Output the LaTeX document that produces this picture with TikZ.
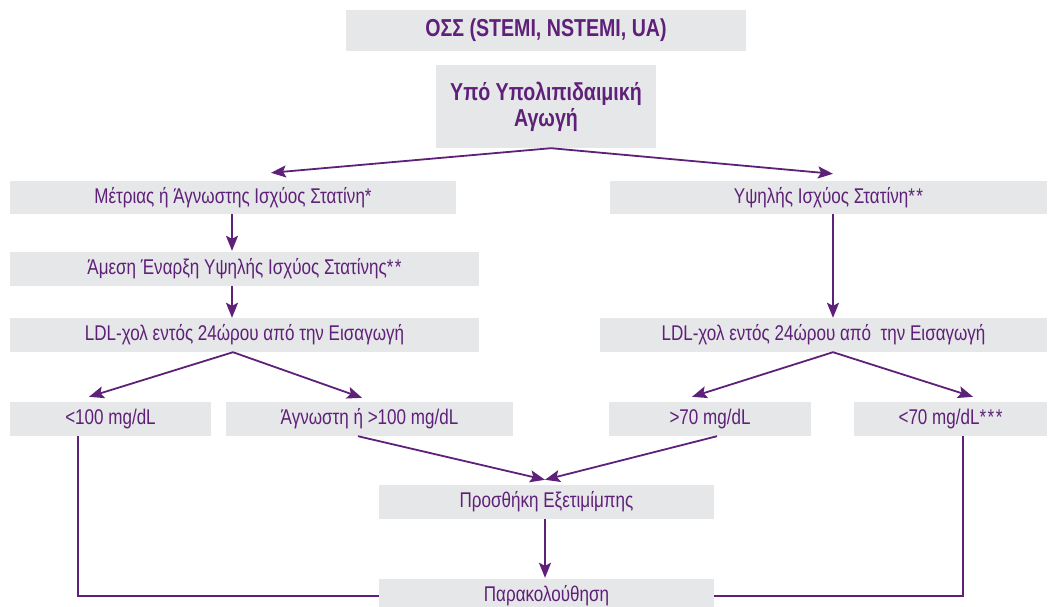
\documentclass[tikz,border=0pt]{standalone}
\usepackage{fontspec}
\setmainfont{Liberation Sans}[FakeStretch=0.8]
\usetikzlibrary{arrows.meta,calc}
\definecolor{pur}{RGB}{94,32,120}
\definecolor{boxgray}{RGB}{230,231,232}
\newcommand{\myast}{*\kern1.5pt}
\begin{document}
\begin{tikzpicture}[x=1pt,y=-1pt,
  bx/.style={fill=boxgray,draw=none,inner sep=0pt,text=pur,align=center,
    font=\fontsize{21.3}{24}\selectfont},
  bxb/.style={bx,font=\fontsize{24.5}{26}\selectfont\bfseries},
  arr/.style={draw=pur,line width=1.8pt,-{Stealth[length=15pt,width=12pt,inset=3pt]}},
  ln/.style={draw=pur,line width=1.8pt}]
\useasboundingbox (0,0) rectangle (1049,607);
\node[bxb,minimum width=400pt,minimum height=41pt] (oss) at (546,30.5) {ΟΣΣ (STEMI, NSTEMI, UA)};
\node[bxb,minimum width=220pt,minimum height=83pt] (ypo) at (546,106.5) {Υπό Υπολιπιδαιμική\\Αγωγή};
\node[bx,minimum width=446pt,minimum height=33pt] (metr) at (233,197.5) {Μέτριας ή Άγνωστης Ισχύος Στατίνη*};
\node[bx,minimum width=437pt,minimum height=33pt] (ypsil) at (828.5,197.5) {Υψηλής Ισχύος Στατίνη\myast*};
\node[bx,minimum width=469pt,minimum height=34pt] (amesi) at (244.5,269) {Άμεση Έναρξη Υψηλής Ισχύος Στατίνης\myast*};
\node[bx,minimum width=469pt,minimum height=34pt] (ldlL) at (244.5,335) {LDL-χολ εντός 24ώρου από την Εισαγωγή};
\node[bx,minimum width=447pt,minimum height=34pt] (ldlR) at (823.5,335) {LDL-χολ εντός 24ώρου από\ \ την Εισαγωγή};
\node[bx,minimum width=201pt,minimum height=34pt] (lt100) at (110.5,419) {<100 mg/dL};
\node[bx,minimum width=287pt,minimum height=34pt] (gt100) at (369.5,419) {Άγνωστη ή >100 mg/dL};
\node[bx,minimum width=202pt,minimum height=34pt] (gt70) at (710,419) {>70 mg/dL};
\node[bx,minimum width=193pt,minimum height=34pt] (lt70) at (950.5,419) {<70 mg/dL\myast\myast*};
\node[bx,minimum width=335pt,minimum height=34pt] (add) at (546.5,502) {Προσθήκη Εξετιμίμπης};
\node[bx,minimum width=335pt,minimum height=34pt] (para) at (546.5,596) {Παρακολούθηση};
% arrows
\draw[arr] ([xshift=5pt]ypo.south) -- ([xshift=38pt,yshift=8pt]metr.north);
\draw[arr] ([xshift=5pt]ypo.south) -- ([xshift=4.5pt,yshift=7pt]ypsil.north);
\draw[arr] ([xshift=-1pt]metr.south) -- ([xshift=-12.5pt,yshift=1pt]amesi.north);
\draw[arr] ([xshift=-12.5pt]amesi.south) -- ([xshift=-12.5pt]ldlL.north);
\draw[arr] ([xshift=4.5pt]ypsil.south) -- ([xshift=9.5pt]ldlR.north);
\draw[arr] ([xshift=-11.5pt]ldlL.south) -- ([xshift=-21.5pt,yshift=5pt]lt100.north);
\draw[arr] ([xshift=-11.5pt]ldlL.south) -- ([xshift=-7.5pt,yshift=4pt]gt100.north);
\draw[arr] ([xshift=9.5pt]ldlR.south) -- ([xshift=-18pt,yshift=5pt]gt70.north);
\draw[arr] ([xshift=9.5pt]ldlR.south) -- ([xshift=22.5pt,yshift=5pt]lt70.north);
\draw[arr] ([xshift=-11.5pt]gt100.south) -- ([xshift=-1.5pt,yshift=5pt]add.north);
\draw[arr] ([xshift=7pt]gt70.south) -- ([xshift=-1.5pt,yshift=5pt]add.north);
\draw[arr] ([xshift=-1.5pt]add.south) -- ([xshift=-1.5pt,yshift=1pt]para.north);
\draw[ln] ([xshift=-32.5pt]lt100.south) |- (para.west);
\draw[ln] ([xshift=12.5pt]lt70.south) |- (para.east);
\end{tikzpicture}
\end{document}
